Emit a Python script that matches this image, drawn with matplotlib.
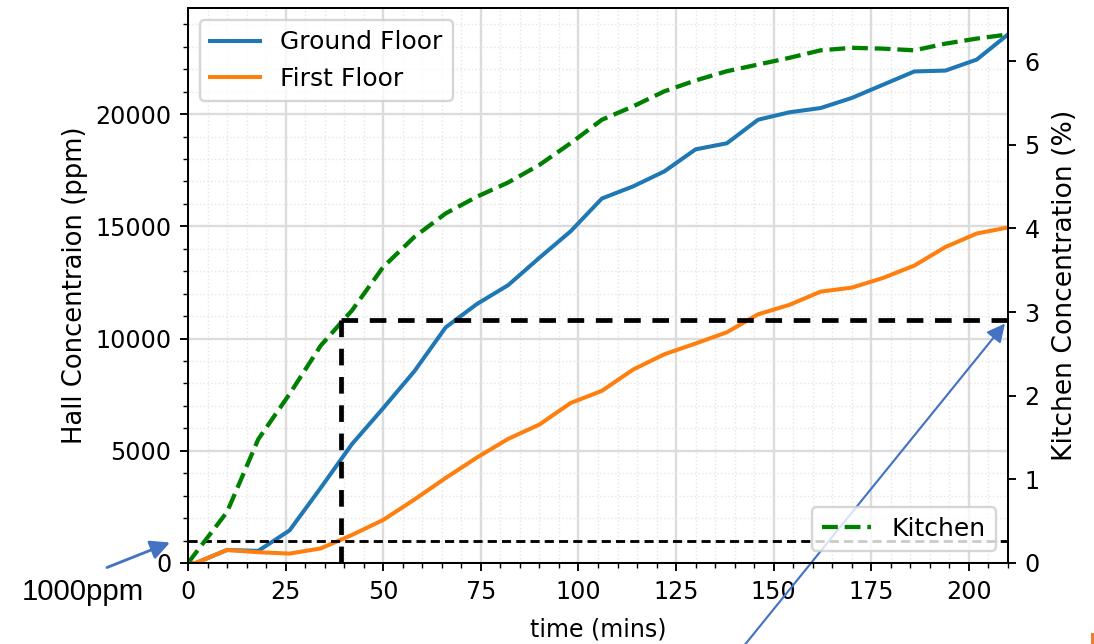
import matplotlib
matplotlib.use("Agg")
import matplotlib.pyplot as plt
from matplotlib.ticker import AutoMinorLocator, MultipleLocator
from matplotlib.patches import Rectangle

# ---- data ----
floor_time = [0, 2, 10, 18, 26, 34, 42, 50, 58, 66, 74, 82, 90, 98, 106, 114,
              122, 130, 138, 146, 154, 162, 170, 178, 186, 194, 202, 210]
ground_floor = [0, 0, 580, 540, 1450, 3350, 5300, 6900, 8550, 10500, 11540,
                12380, 13600, 14780, 16240, 16780, 17450, 18430, 18700, 19750,
                20080, 20270, 20720, 21310, 21900, 21940, 22430, 23550]
first_floor = [0, 0, 580, 480, 420, 650, 1250, 1920, 2830, 3790, 4700, 5530,
               6170, 7130, 7670, 8620, 9300, 9780, 10280, 11080, 11500, 12090,
               12270, 12700, 13250, 14080, 14680, 14950]
kitchen_time = [0, 10, 18, 26, 34, 42, 50, 58, 66, 74, 82, 90, 98, 106, 114,
                122, 130, 138, 146, 154, 162, 170, 178, 186, 194, 202, 210]
kitchen = [0, 0.61, 1.48, 2.02, 2.6, 3.02, 3.54, 3.9, 4.18, 4.38, 4.55, 4.76,
           5.02, 5.3, 5.46, 5.64, 5.77, 5.88, 5.96, 6.04, 6.13, 6.16, 6.15,
           6.13, 6.21, 6.27, 6.32]

hall_threshold = 1000      # ppm
kitchen_threshold = 2.9    # %
threshold_time = 39.2      # mins
x_max = 210

DPI = 171
fig = plt.figure(figsize=(1094 / DPI, 644 / DPI), dpi=DPI)
ax1 = fig.add_axes([188 / 1094, 81 / 644, 820 / 1094, 555 / 644])

ax1.plot(floor_time, ground_floor, color="#1f77b4", lw=1.7, label="Ground Floor")
ax1.plot(floor_time, first_floor, color="#ff7f0e", lw=1.7, label="First Floor")
ax1.plot([0, x_max], [hall_threshold, hall_threshold], color="k", lw=1.2,
         dashes=(3.2, 1.8))

ax1.set_xlim(0, x_max)
ax1.set_ylim(bottom=0)
ax1.xaxis.set_major_locator(MultipleLocator(25))
ax1.xaxis.set_minor_locator(AutoMinorLocator(5))
ax1.yaxis.set_minor_locator(AutoMinorLocator(5))
ax1.grid(True, which="major", color="#dcdcdc", lw=1.0)
ax1.grid(True, which="minor", color="#e6e6e6", lw=0.6, linestyle=":")
ax1.set_axisbelow(True)
ax1.set_xlabel("time (mins)", labelpad=6)
ax1.set_ylabel("Hall Concentraion (ppm)", fontsize=10.9, labelpad=3)
ax1.legend(loc="upper left", fontsize=10.5)

ax2 = ax1.twinx()
ax2.plot(kitchen_time, kitchen, color="green", lw=1.8, linestyle="--",
         label="Kitchen")
ax2.plot([threshold_time, threshold_time], [kitchen_threshold, 0], color="k",
         lw=2, dashes=(3.5, 2.45))
ax2.plot([threshold_time, x_max], [kitchen_threshold, kitchen_threshold],
         color="k", lw=2, dashes=(3.5, 2.45))
ax2.set_ylim(bottom=0)
ax2.set_xlim(0, x_max)
ax2.set_ylabel("Kitchen Concentration (%)", fontsize=11.2, labelpad=5)
ax2.legend(loc="lower right", fontsize=10.5)

# ---- outside annotations ----
arrow_color = "#4472C4"
ax1.annotate("", xy=(170, 644 - 542.5), xycoords="figure pixels",
             xytext=(107, 644 - 567.5), textcoords="figure pixels",
             arrowprops=dict(arrowstyle="-|>", color=arrow_color, lw=1.2,
                             mutation_scale=17, shrinkA=0, shrinkB=0),
             annotation_clip=False)
ax1.annotate("", xy=(1005, 644 - 323.5), xycoords="figure pixels",
             xytext=(739, 644 - 652), textcoords="figure pixels",
             arrowprops=dict(arrowstyle="-|>", color=arrow_color, lw=0.9,
                             mutation_scale=16, shrinkA=0, shrinkB=0),
             annotation_clip=False)
fig.text(22 / 1094, 44 / 644, "1000ppm", family="Liberation Sans",
         fontsize=12.4, ha="left", va="baseline")
fig.add_artist(Rectangle((1091 / 1094, 0), 4 / 1094, 11 / 644,
                         transform=fig.transFigure, color="#ED7D31", lw=0))

fig.savefig("out.png", dpi=DPI)
